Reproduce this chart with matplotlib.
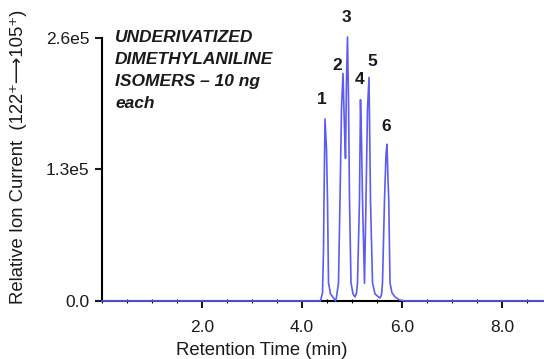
import matplotlib.pyplot as plt
from matplotlib.ticker import MultipleLocator, FixedLocator

plt.rcParams['font.family'] = ['Liberation Sans', 'DejaVu Sans']

# chromatogram trace (min, counts)
rt = [0.0, 4.37, 4.41, 4.43, 4.44, 4.46, 4.49, 4.51, 4.53, 4.57, 4.63, 4.67,
      4.69, 4.73, 4.76, 4.79, 4.82, 4.85, 4.87, 4.89, 4.91, 4.93, 4.95, 4.98, 5.02, 5.06,
      5.09, 5.11, 5.15, 5.17, 5.19, 5.21, 5.25,
      5.28, 5.31, 5.34, 5.355, 5.37, 5.41, 5.46, 5.53, 5.56,
      5.59, 5.61, 5.65, 5.68, 5.70, 5.72, 5.735, 5.76, 5.80, 5.86, 5.95, 6.05, 8.84]
signal = [0, 0, 0.08e5, 0.50e5, 1.00e5, 1.80e5, 1.50e5, 1.00e5, 0.18e5, 0.07e5, 0.03e5, 0,
          0.04e5, 0.18e5, 1.00e5, 1.90e5, 2.25e5, 1.70e5, 1.41e5, 2.20e5, 2.61e5, 2.00e5, 1.00e5,
          0.18e5, 0.07e5, 0.04e5,
          0.08e5, 0.18e5, 1.00e5, 1.99e5, 1.60e5, 1.00e5, 0.175e5,
          1.00e5, 1.90e5, 2.21e5, 1.60e5, 1.00e5, 0.18e5, 0.07e5, 0.04e5, 0.03e5,
          0.06e5, 0.18e5, 1.00e5, 1.45e5, 1.55e5, 1.20e5, 1.00e5, 0.18e5, 0.08e5, 0.04e5,
          0.01e5, 0, 0]

peak_ids = ['1', '2', '3', '4', '5', '6']
peak_label_t = [4.40, 4.71, 4.88, 5.15, 5.41, 5.69]
peak_label_y = [1.99e5, 2.33e5, 2.80e5, 2.185e5, 2.37e5, 1.72e5]

fig = plt.figure(figsize=(5.44, 3.59), dpi=100)
ax = fig.add_axes([0.1875, 0.1616, 0.8125, 0.7326])

ax.plot(rt, signal, color='#5c5cf2', lw=1.2, clip_on=False, zorder=3)

for lab, t, y in zip(peak_ids, peak_label_t, peak_label_y):
    ax.text(t, y, lab, ha='center', va='center', fontsize=12.5, fontweight='bold',
            color='#1a1a1a')

ax.text(0.26, 2.68e5, 'UNDERIVATIZED\nDIMETHYLANILINE\nISOMERS – 10 ng\neach',
        ha='left', va='top', fontsize=12.5, fontweight='bold', fontstyle='italic',
        color='#1a1a1a', linespacing=1.58)

ax.set_xlim(0, 8.84)
ax.set_ylim(0, 2.6e5)
ax.xaxis.set_major_locator(FixedLocator([2, 4, 6, 8]))
ax.xaxis.set_minor_locator(MultipleLocator(0.5))
ax.set_xticklabels(['2.0', '4.0', '6.0', '8.0'])
ax.set_yticks([0, 1.3e5, 2.6e5])
ax.set_yticklabels(['0.0', '1.3e5', '2.6e5'])

for s in ['top', 'right']:
    ax.spines[s].set_visible(False)
for s in ['left', 'bottom']:
    ax.spines[s].set_linewidth(1.5)
ax.tick_params(axis='both', which='major', length=5, width=1.5, labelsize=12.5,
               direction='out', colors='#1a1a1a', pad=4)
ax.tick_params(axis='x', which='major', pad=9)
ax.tick_params(axis='x', which='minor', length=2.5, width=0.8, direction='inout')

ax.set_xlabel('Retention Time (min)', fontsize=13.3, color='#1a1a1a')
ax.set_ylabel('Relative Ion Current  (122⁺⟶105⁺)', fontsize=13.3, color='#1a1a1a')
ax.xaxis.set_label_coords(0.362, -0.155)
ax.yaxis.set_label_coords(-0.17, 0.548)

fig.savefig('out.png', dpi=100)
